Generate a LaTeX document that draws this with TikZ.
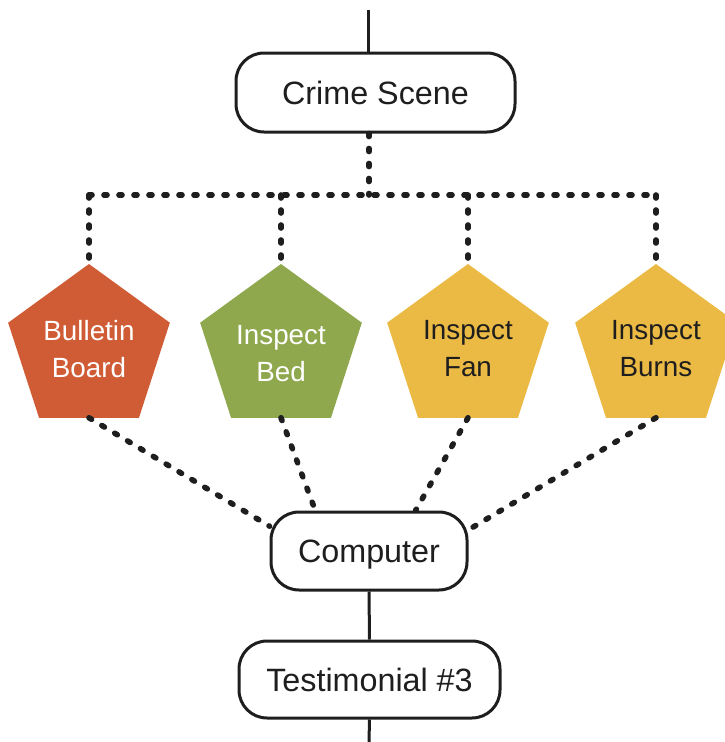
\documentclass[tikz,border=0pt]{standalone}
\usepackage{fontspec}
\setmainfont{Liberation Sans}
\usetikzlibrary{shapes.geometric,calc}
\definecolor{brick}{HTML}{D05C36}
\definecolor{moss}{HTML}{8FA84E}
\definecolor{amber}{HTML}{EBBA45}
\definecolor{ink}{HTML}{1E1E1E}

\begin{document}
\begin{tikzpicture}[x=1pt,y=-1pt,
  flowbox/.style={draw=ink, line width=3pt, rounded corners=28pt, fill=white,
    inner sep=0pt, text=ink, text height=23pt, text depth=0pt,
    font=\fontsize{32.3}{37}\selectfont},
  penta/.style={regular polygon, regular polygon sides=5, minimum size=170pt,
    inner sep=0pt, outer sep=0pt, align=center, font=\fontsize{27.8}{37}\selectfont},
  solidline/.style={draw=ink, line width=3pt},
  dotline/.style={draw=ink, line width=5.6pt, line cap=round, dash pattern=on 3pt off 12pt}]
  \useasboundingbox (0,0) rectangle (725,742);

  % main flow boxes
  \node[flowbox, minimum width=279pt, minimum height=79pt] (cs) at (375.5,92.5) {Crime Scene};
  \node[flowbox, minimum width=196pt, minimum height=78pt] (comp) at (369,551) {Computer};
  \node[flowbox, minimum width=261pt, minimum height=77pt] (test) at (369.5,679.5) {Testimonial \#3};

  % investigation steps
  \node[penta, fill=brick, text=white] (bb) at (89,349) {Bulletin\\Board};
  \node[penta, fill=moss, text=white] (bd) at (281,349) {\rule{0pt}{27.5pt}Inspect\\Bed};
  \node[penta, fill=amber, text=ink] (fn) at (468,349) {Inspect\\Fan};
  \node[penta, fill=amber, text=ink] (bn) at (656,349) {Inspect\\Burns};

  % solid flow lines
  \coordinate (top) at (368,10);
  \coordinate (bottom) at (369,742);
  \draw[solidline] (top) -- (top |- cs.north);
  \draw[solidline] (comp.south) -- (test.north);
  \draw[solidline] (test.south) -- (bottom);

  % branching dotted lines from the crime scene
  \coordinate (hub) at (369,195);
  \draw[dotline] (hub |- cs.south) -- (hub);
  \draw[dotline] (bb.corner 1 |- hub) -- (bn.corner 1 |- hub);
  \draw[dotline] (bb.corner 1 |- hub) -- (bb.corner 1);
  \draw[dotline] (bd.corner 1 |- hub) -- (bd.corner 1);
  \draw[dotline] (fn.corner 1 |- hub) -- (fn.corner 1);
  \draw[dotline] (bn.corner 1 |- hub) -- (bn.corner 1);

  % dotted lines joining at the computer
  \draw[dotline] (bb.side 3) -- (comp.166);
  \draw[dotline] (bd.side 3) -- (comp.143);
  \draw[dotline] (fn.side 3) -- (comp.41.6);
  \draw[dotline] (bn.side 3) -- (comp.12.3);
\end{tikzpicture}
\end{document}
